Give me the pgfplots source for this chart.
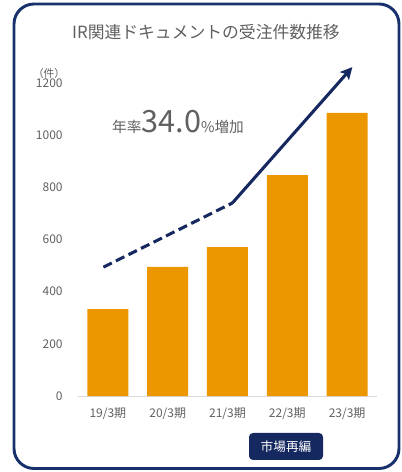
\documentclass[border=0pt]{standalone}
\usepackage{fontspec}
\setmainfont{Noto Sans CJK JP}
\usepackage{pgfplots}
\pgfplotsset{compat=1.18}
\usetikzlibrary{arrows.meta}
\definecolor{barorange}{RGB}{236,150,0}
\definecolor{navy}{RGB}{22,40,96}
\definecolor{framenavy}{RGB}{24,48,108}
\definecolor{txtgray}{RGB}{96,96,96}
\definecolor{axgray}{RGB}{217,217,217}
\begin{document}
\begin{tikzpicture}[x=0.75pt,y=0.75pt]
\path[use as bounding box] (0,0) rectangle (401,472);
\draw[framenavy, line width=2.2pt, rounded corners=15pt] (14,3.5) rectangle (399,468);
\begin{axis}[
  at={(58.5pt,57pt)}, anchor=south west,
  scale only axis, width=224.25pt, height=234.75pt,
  xmin=-0.5, xmax=4.5, ymin=0, ymax=1200,
  clip=false,
  axis x line*=bottom, axis y line*=left,
  x axis line style={draw=axgray, line width=0.6pt},
  y axis line style={draw=none},
  major tick length=0pt,
  xtick={0,1,2,3,4},
  xticklabels={19/3期,20/3期,21/3期,22/3期,23/3期},
  ytick={0,200,400,600,800,1000,1200},
  /pgf/number format/assume math mode=true,
  /pgf/number format/1000 sep={},
  tick label style={font=\fontsize{9}{10}\selectfont, text=txtgray},
  yticklabel style={xshift=-8pt},
  xticklabel style={yshift=-5pt},
]
\addplot[ybar, bar width=30.75pt, fill=barorange, draw=none] coordinates {(0,333) (1,495) (2,571) (3,847) (4,1085)};
\addplot[navy, line width=2.3pt, dash pattern=on 7pt off 3.5pt] coordinates {(-0.075,494) (2.082,740)};
\addplot[navy, line width=2.3pt, -{Stealth[length=9pt,width=9pt,inset=2pt]}] coordinates {(2.082,740) (4.088,1261)};
\end{axis}
\node[text=txtgray, font=\fontsize{12.6}{14}\selectfont] at (206,440) {IR関連ドキュメントの受注件数推移};
\node[text=txtgray, font=\fontsize{8}{9}\selectfont] at (49,399) {（件）};
\node[text=txtgray, anchor=base, inner sep=0pt] at (178,339) {\fontsize{11}{12}\selectfont 年率\fontsize{23}{26}\selectfont 34.0\fontsize{11}{12}\selectfont\%増加};
\node[fill=navy, text=white, rounded corners=3pt, minimum width=55.5pt, minimum height=20.25pt, inner sep=0pt, font=\fontsize{9.5}{11}\selectfont] at (286,25.5) {市場再編};
\end{tikzpicture}
\end{document}
